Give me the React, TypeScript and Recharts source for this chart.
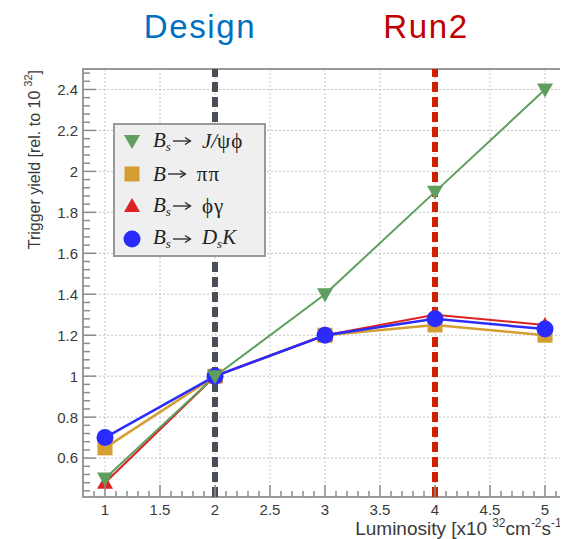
import {
  LineChart,
  Line,
  XAxis,
  YAxis,
  CartesianGrid,
  ReferenceLine,
  ReferenceArea,
  Legend
} from 'recharts';

const luminosity = [1, 2, 3, 4, 5];
const jpsiPhi = [0.5, 1.0, 1.4, 1.9, 2.4];
const piPi = [0.65, 1.0, 1.2, 1.25, 1.2];
const phiGamma = [0.48, 1.0, 1.2, 1.3, 1.25];
const dsK = [0.7, 1.0, 1.2, 1.28, 1.23];

const xMajorTicks = [1, 1.5, 2, 2.5, 3, 3.5, 4, 4.5, 5];
const yMajorTicks = [0.6, 0.8, 1, 1.2, 1.4, 1.6, 1.8, 2, 2.2, 2.4];

const designLumi = 2;
const run2Lumi = 4;

// minor ticks: 0.1 steps on x, 0.04 steps on y
const xTicks: number[] = [];
for (let i = 9; i <= 51; i++) xTicks.push(Math.round(i * 10) / 100);
const yTicks: number[] = [];
for (let i = 11; i <= 62; i++) yTicks.push(Math.round(i * 4) / 100);

// label: [initial state, final state]; "_x" = subscript
const series = [
  { key: 'piPi', label: ['B', 'ππ'], color: '#d49e32', values: piPi, shape: 'square', width: 2.5 },
  { key: 'phiGamma', label: ['B_s', 'ϕγ'], color: '#dd2222', values: phiGamma, shape: 'up', width: 2 },
  { key: 'dsK', label: ['B_s', 'D_sK'], color: '#2b2bff', values: dsK, shape: 'circle', width: 2.5 },
  { key: 'jpsiPhi', label: ['B_s', 'J/ψϕ'], color: '#5e9e5e', values: jpsiPhi, shape: 'down', width: 2 }
];
const legendOrder = ['jpsiPhi', 'piPi', 'phiGamma', 'dsK'];

const rows = luminosity.map((lum, i) => {
  const row: Record<string, number> = { lum };
  series.forEach((s) => {
    row[s.key] = s.values[i];
  });
  return row;
});

const AXIS_COLOR = '#8c8c8c';
const LABEL_COLOR = '#3a3a3a';
const SANS = '"Liberation Sans", Arial, sans-serif';
const SERIF = '"Liberation Serif", "DejaVu Serif", serif';

const isMajor = (list: number[], v: number) => list.some((t) => Math.abs(t - v) < 1e-6);

const Marker = ({ shape, color, cx, cy }: { shape: string; color: string; cx: number; cy: number }) => {
  if (shape === 'circle') return <circle cx={cx} cy={cy} r={8.5} fill={color} />;
  if (shape === 'square') return <rect x={cx - 7.5} y={cy - 7.5} width={15} height={15} fill={color} />;
  if (shape === 'up')
    return <polygon points={`${cx - 8},${cy + 6} ${cx + 8},${cy + 6} ${cx},${cy - 8}`} fill={color} />;
  return <polygon points={`${cx - 8},${cy - 6} ${cx + 8},${cy - 6} ${cx},${cy + 8}`} fill={color} />;
};

const YTick = (props: any) => {
  const { x, y, payload } = props;
  const major = isMajor(yMajorTicks, payload.value);
  return (
    <g>
      <line x1={x} y1={y} x2={x + (major ? 13 : 7)} y2={y} stroke={AXIS_COLOR} strokeWidth={1.5} />
      {major && (
        <text x={x - 5} y={y} dy="0.36em" textAnchor="end" fontSize={15} fontFamily={SANS} fill={LABEL_COLOR}>
          {payload.value}
        </text>
      )}
    </g>
  );
};

const XTick = (props: any) => {
  const { x, y, payload } = props;
  const major = isMajor(xMajorTicks, payload.value);
  return (
    <g>
      <line x1={x} y1={y} x2={x} y2={y - (major ? 12 : 6)} stroke={AXIS_COLOR} strokeWidth={1.5} />
      {major && (
        <text x={x} y={y + 18} textAnchor="middle" fontSize={15} fontFamily={SANS} fill={LABEL_COLOR}>
          {payload.value}
        </text>
      )}
    </g>
  );
};

const XTitle = ({ viewBox }: any) => (
  <text
    x={viewBox.x + viewBox.width}
    y={viewBox.y + 38}
    textAnchor="end"
    fontSize={19}
    fontFamily={SANS}
    fill={LABEL_COLOR}
  >
    Luminosity [x10
    <tspan dx={5} dy={-8} fontSize={12}>32</tspan>
    <tspan dy={8}>cm</tspan>
    <tspan dy={-8} fontSize={12}>-2</tspan>
    <tspan dy={8}>s</tspan>
    <tspan dy={-8} fontSize={12}>-1</tspan>
    <tspan dy={8}>]</tspan>
  </text>
);

const YTitle = ({ viewBox }: any) => {
  const tx = 32;
  const ty = viewBox.y + 1;
  return (
    <text
      x={tx}
      y={ty}
      transform={`rotate(-90 ${tx} ${ty})`}
      textAnchor="end"
      fontSize={16}
      fontFamily={SANS}
      fill={LABEL_COLOR}
    >
      Trigger yield [rel. to 10
      <tspan dx={4} dy={-8} fontSize={11}>32</tspan>
      <tspan dy={8}>]</tspan>
    </text>
  );
};

const lineLabel = (text: string, color: string, dx: number) => ({ viewBox }: any) => (
  <text
    x={viewBox.x + dx}
    y={viewBox.y - 31}
    textAnchor="middle"
    fontSize={33}
    letterSpacing={1.6}
    fontFamily={SANS}
    fill={color}
  >
    {text}
  </text>
);

const renderFormula = (s: string) => {
  const out: any[] = [];
  for (let i = 0; i < s.length; i++) {
    const c = s[i];
    if (c === '_') {
      out.push(
        <span
          key={i}
          style={{ fontStyle: 'italic', fontSize: '0.62em', position: 'relative', top: '0.3em' }}
        >
          {s[i + 1]}
        </span>
      );
      i++;
      continue;
    }
    const latin = /[A-Za-z/]/.test(c);
    out.push(
      <span key={i} style={{ fontStyle: latin ? 'italic' : 'normal', letterSpacing: latin ? 0 : '1px' }}>
        {c}
      </span>
    );
  }
  return out;
};

const Arrow = () => (
  <svg width={20} height={12} style={{ margin: '0 10px 0 1px', flex: 'none' }}>
    <line x1={1} y1={6} x2={18} y2={6} stroke="#222" strokeWidth={1.3} />
    <path d="M13,2.5 L18.5,6 L13,9.5" fill="none" stroke="#222" strokeWidth={1.3} />
  </svg>
);

const LegendBox = () => (
  <div
    style={{
      width: 149,
      height: 130,
      background: '#efefef',
      border: '2px solid #999',
      fontFamily: SERIF,
      fontSize: 21,
      color: '#222'
    }}
  >
    {legendOrder.map((key) => {
      const s = series.find((it) => it.key === key)!;
      return (
        <div key={key} style={{ height: 32.5, display: 'flex', alignItems: 'center' }}>
          <svg width={38} height={32} style={{ flex: 'none' }}>
            <Marker shape={s.shape} color={s.color} cx={17} cy={16} />
          </svg>
          <span style={{ whiteSpace: 'nowrap', lineHeight: '20px' }}>{renderFormula(s.label[0])}</span>
          <Arrow />
          <span style={{ whiteSpace: 'nowrap', lineHeight: '20px' }}>{renderFormula(s.label[1])}</span>
        </div>
      );
    })}
  </div>
);

const App = () => (
  <LineChart width={560} height={531} data={rows} margin={{ top: 61, right: 1, bottom: 0, left: 0 }}>
    <CartesianGrid
      horizontalValues={yMajorTicks}
      verticalValues={xMajorTicks}
      stroke="#c4c4c4"
      strokeDasharray="2 2"
    />
    <XAxis
      type="number"
      dataKey="lum"
      domain={[0.8, 5.2]}
      ticks={xTicks}
      interval={0}
      tick={<XTick />}
      tickLine={false}
      axisLine={false}
      tickSize={0}
      tickMargin={0}
      height={42}
      allowDataOverflow
      label={{ content: XTitle }}
    />
    <YAxis
      type="number"
      domain={[0.41, 2.5]}
      ticks={yTicks}
      interval={0}
      tick={<YTick />}
      tickLine={false}
      axisLine={false}
      tickSize={0}
      tickMargin={0}
      width={75}
      allowDataOverflow
      label={{ content: YTitle }}
    />
    <ReferenceArea x1={0.8} x2={5.2} y1={0.41} y2={2.5} fill="none" stroke="#999" strokeWidth={2} />
    <Legend
      layout="vertical"
      align="center"
      verticalAlign="middle"
      wrapperStyle={{ left: 105, top: 115, width: 153, height: 134 }}
      content={() => <LegendBox />}
    />
    {series.map((s) => (
      <Line
        key={s.key}
        type="linear"
        dataKey={s.key}
        stroke={s.color}
        strokeWidth={s.width}
        isAnimationActive={false}
        activeDot={false}
        dot={(p: any) => <Marker key={`${s.key}-${p.index}`} shape={s.shape} color={s.color} cx={p.cx} cy={p.cy} />}
      />
    ))}
    <ReferenceLine
      x={designLumi}
      stroke="#4a4f57"
      strokeWidth={6}
      strokeDasharray="10 5"
      label={{ content: lineLabel('Design', '#0070c0', -15) }}
    />
    <ReferenceLine
      x={run2Lumi}
      stroke="#cc2200"
      strokeWidth={6}
      strokeDasharray="10 5"
      label={{ content: lineLabel('Run2', '#c00000', -9) }}
    />
  </LineChart>
);

export default App;
